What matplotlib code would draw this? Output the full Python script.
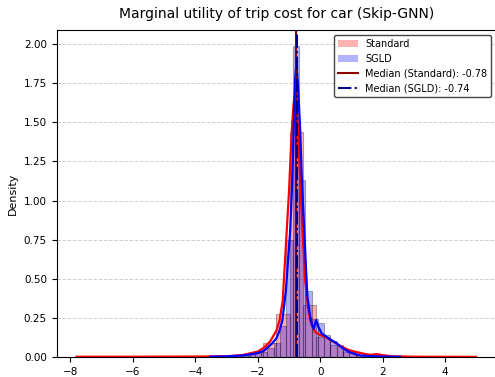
import numpy as np
import matplotlib
matplotlib.use("Agg")
import matplotlib.pyplot as plt
from matplotlib.patches import Patch
from matplotlib.lines import Line2D

# ---- data ----
std_range = (-7.8, 5.0)
sgld_range = (-3.52, 2.56)
n_bins = 30

std_density = [0.001, 0.001, 0.001, 0.001, 0.001, 0.001, 0.001, 0.001, 0.001, 0.001,
               0.002, 0.003, 0.006, 0.03, 0.09, 0.275, 1.44, 0.33, 0.13, 0.075,
               0.035, 0.012, 0.012, 0.004, 0.002, 0.001, 0.001, 0.001, 0.001, 0.001]

sgld_density = [0.002, 0.002, 0.003, 0.004, 0.006, 0.01, 0.018, 0.025, 0.035, 0.055,
                0.09, 0.2, 0.75, 1.99, 1.13, 0.42, 0.24, 0.22, 0.14, 0.1,
                0.07, 0.045, 0.03, 0.015, 0.01, 0.006, 0.004, 0.003, 0.002, 0.001]

std_kde_x = [-7.8, -6.0, -4.0, -3.0, -2.5, -2.0, -1.8, -1.6, -1.4, -1.3, -1.2, -1.07,
             -1.0, -0.91, -0.85, -0.78, -0.72, -0.64, -0.56, -0.48, -0.4, -0.32, -0.24,
             -0.16, 0.0, 0.16, 0.4, 0.59, 0.91, 1.12, 1.44, 1.62, 1.81, 2.0, 2.3, 3.0, 5.0]
std_kde_y = [0.002, 0.002, 0.003, 0.005, 0.012, 0.035, 0.06, 0.1, 0.17, 0.235, 0.36, 0.81,
             1.05, 1.45, 1.62, 1.72, 1.5, 1.13, 0.78, 0.49, 0.33, 0.235, 0.19,
             0.16, 0.14, 0.13, 0.1, 0.077, 0.045, 0.034, 0.019, 0.014, 0.019, 0.012, 0.005, 0.002, 0.001]

sgld_kde_x = [-3.52, -3.0, -2.5, -2.2, -2.0, -1.8, -1.55, -1.4, -1.3, -1.21, -1.1, -0.96,
              -0.9, -0.85, -0.8, -0.76, -0.7, -0.64, -0.58, -0.51, -0.45, -0.41, -0.33,
              -0.27, -0.21, -0.13, -0.05, 0.05, 0.13, 0.3, 0.48, 0.7, 0.9, 1.1, 1.3, 1.6, 2.0, 2.56]
sgld_kde_y = [0.002, 0.004, 0.01, 0.018, 0.025, 0.04, 0.085, 0.12, 0.17, 0.235, 0.42, 0.81,
              1.1, 1.45, 1.78, 1.88, 1.7, 1.45, 1.1, 0.81, 0.55, 0.39, 0.27,
              0.21, 0.18, 0.235, 0.19, 0.15, 0.14, 0.115, 0.094, 0.06, 0.034, 0.02, 0.01, 0.006, 0.003, 0.001]

median_std = -0.78
median_sgld = -0.74

title = "Marginal utility of trip cost for car (Skip-GNN)"

# ---- figure ----
fig = plt.figure(figsize=(4.95, 3.77), dpi=100)
ax = fig.add_axes([0.1145, 0.053, 0.888, 0.8674])

std_edges = np.linspace(std_range[0], std_range[1], n_bins + 1)
sgld_edges = np.linspace(sgld_range[0], sgld_range[1], n_bins + 1)

ax.bar(std_edges[:-1], std_density, width=np.diff(std_edges), align="edge",
       color="red", alpha=0.3, edgecolor="black", linewidth=0.8, zorder=2)
ax.plot(std_kde_x, std_kde_y, color="red", lw=1.6, zorder=3)
ax.bar(sgld_edges[:-1], sgld_density, width=np.diff(sgld_edges), align="edge",
       color="blue", alpha=0.3, edgecolor="black", linewidth=0.8, zorder=2)
ax.plot(sgld_kde_x, sgld_kde_y, color="blue", lw=1.6, zorder=3)

ax.axvline(median_std, color="darkred", lw=1.5, ls="-", zorder=4)
ax.axvline(median_sgld, color="navy", lw=1.5, ls="-.", zorder=4)

ax.set_xlim(-8.44, 5.64)
ax.set_ylim(0, 2.09)
ax.set_xticks([-8, -6, -4, -2, 0, 2, 4])
yt = [0, 0.25, 0.5, 0.75, 1.0, 1.25, 1.5, 1.75, 2.0]
ax.set_yticks(yt)
ax.set_yticklabels([f"{v:.2f}" for v in yt])
ax.tick_params(labelsize=7.5, length=3.5)
ax.grid(axis="y", ls="--", color="#bbbbbb", alpha=0.7, lw=0.7, zorder=0)
ax.set_axisbelow(True)
ax.set_ylabel("Density", fontsize=8)
ax.set_title(title, fontsize=10, pad=9)

handles = [Patch(facecolor="red", alpha=0.3, edgecolor="none", label="Standard"),
           Patch(facecolor="blue", alpha=0.3, edgecolor="none", label="SGLD"),
           Line2D([], [], color="darkred", lw=1.5, ls="-", label=f"Median (Standard): {median_std:.2f}"),
           Line2D([], [], color="navy", lw=1.5, ls="-.", label=f"Median (SGLD): {median_sgld:.2f}")]
ax.legend(handles=handles, loc="upper right", fontsize=7, framealpha=1,
          edgecolor="#444444", fancybox=True, borderaxespad=0.5)

fig.savefig("out.png", dpi=100)
